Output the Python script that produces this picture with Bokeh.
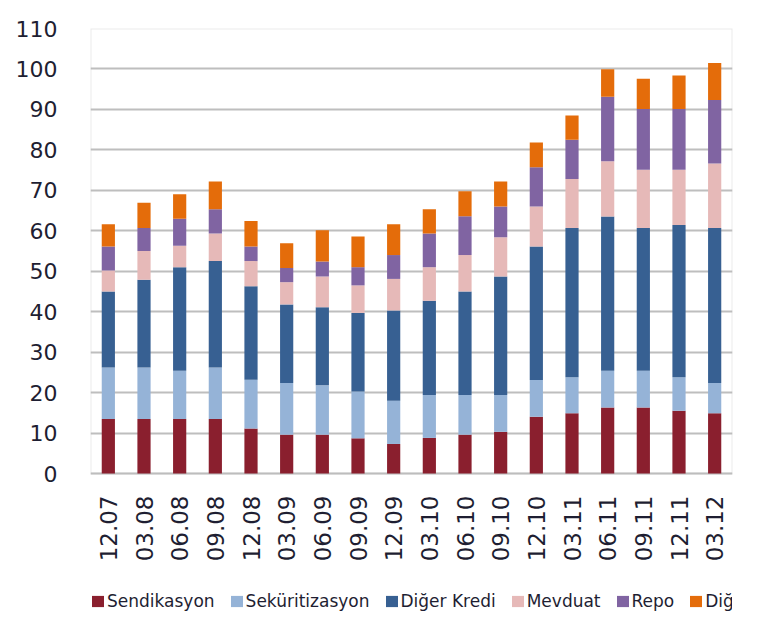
from bokeh.plotting import figure
from bokeh.models import ColumnDataSource, FactorRange, Range1d, FixedTicker, Legend, BoxAnnotation
from bokeh.embed import file_html
from bokeh.resources import INLINE

categories = ["12.07", "03.08", "06.08", "09.08", "12.08", "03.09", "06.09", "09.09", "12.09",
              "03.10", "06.10", "09.10", "12.10", "03.11", "06.11", "09.11", "12.11", "03.12"]

sendikasyon = [13.5, 13.5, 13.5, 13.5, 11.1, 9.6, 9.6, 8.7, 7.3, 8.8, 9.6, 10.3, 14.0, 14.9, 16.3, 16.3, 15.5, 14.9]
sekuritizasyon = [12.7, 12.7, 11.9, 12.7, 12.1, 12.8, 12.2, 11.6, 10.7, 10.6, 9.8, 9.1, 9.1, 8.9, 9.1, 9.1, 8.3, 7.5]
diger_kredi = [18.8, 21.7, 25.6, 26.3, 23.1, 19.4, 19.3, 19.4, 22.3, 23.3, 25.6, 29.3, 33.0, 36.9, 38.1, 35.3, 37.6, 38.3]
mevduat = [5.2, 7.1, 5.3, 6.8, 6.2, 5.5, 7.6, 6.8, 7.8, 8.3, 9.0, 9.7, 9.9, 12.1, 13.7, 14.4, 13.7, 15.9]
repo = [5.9, 5.7, 6.7, 6.0, 3.6, 3.5, 3.7, 4.5, 5.9, 8.3, 9.6, 7.6, 9.7, 9.7, 15.9, 15.0, 15.0, 15.7]
diger = [5.5, 6.2, 6.0, 6.9, 6.3, 6.1, 7.7, 7.6, 7.6, 6.0, 6.2, 6.2, 6.1, 6.0, 6.8, 7.5, 8.3, 9.2]

series_keys = ["sendikasyon", "sekuritizasyon", "diger_kredi", "mevduat", "repo", "diger"]
series_labels = ["Sendikasyon", "Seküritizasyon", "Diğer Kredi", "Mevduat", "Repo", "Diğer"]
series_colors = ["#8A1F2E", "#95B3D7", "#376092", "#E6B9B8", "#8064A2", "#E46C0A"]

y_ticks = [0, 10, 20, 30, 40, 50, 60, 70, 80, 90, 100, 110]

source = ColumnDataSource(data=dict(
    cat=categories,
    sendikasyon=sendikasyon,
    sekuritizasyon=sekuritizasyon,
    diger_kredi=diger_kredi,
    mevduat=mevduat,
    repo=repo,
    diger=diger,
))

# layout: value area is 445 px tall (0..110); the frame extends further down
# so that the x labels and the legend sit inside it.
plot_px = 445
frame_px = 583
y_top = y_ticks[-1]
y_bottom = -(frame_px - plot_px) * y_top / plot_px

p = figure(
    x_range=FactorRange(*categories, range_padding=0),
    y_range=Range1d(y_bottom, y_top),
    frame_width=642, frame_height=frame_px,
    min_border_left=90, min_border_top=28, min_border_right=35, min_border_bottom=0,
    output_backend="svg", toolbar_location=None,
)

renderers = p.vbar_stack(series_keys, x="cat", width=0.37, source=source,
                         color=series_colors, line_color=None)

grid_color = "#BEBEBE"
p.xgrid.grid_line_color = None
p.ygrid.grid_line_color = grid_color
p.ygrid.grid_line_width = 2
p.ygrid.ticker = FixedTicker(ticks=y_ticks)
p.outline_line_color = None
p.background_fill_color = "white"
p.border_fill_color = "white"

box = BoxAnnotation(bottom=y_ticks[0], top=y_ticks[-1], fill_color=None, fill_alpha=0,
                    line_color=grid_color, line_width=2, level="underlay")
p.add_layout(box)

p.yaxis.ticker = FixedTicker(ticks=y_ticks)
p.yaxis.axis_line_color = None
p.yaxis.major_tick_line_color = None
p.yaxis.minor_tick_line_color = None
p.yaxis.major_label_text_font = "DejaVu Sans"
p.yaxis.major_label_text_font_size = "22px"
p.yaxis.major_label_text_color = "#1E1E32"
p.yaxis.major_label_standoff = 27

p.xaxis.fixed_location = 0
p.xaxis.axis_line_color = None
p.xaxis.major_tick_line_color = None
p.xaxis.minor_tick_line_color = None
p.xaxis.major_label_orientation = 1.5708
p.xaxis.major_label_text_font = "DejaVu Sans"
p.xaxis.major_label_text_font_size = "23px"
p.xaxis.major_label_text_color = "#1E1E32"
p.xaxis.major_label_standoff = 16

leg = Legend(items=[(lab, [r]) for lab, r in zip(series_labels, renderers)])
leg.orientation = "horizontal"
leg.location = (0, 0)
leg.padding = 0
leg.margin = 0
leg.spacing = 14
leg.glyph_width = 15
leg.glyph_height = 14
leg.label_standoff = 2
leg.label_text_font = "DejaVu Sans"
leg.label_text_font_size = "17px"
leg.label_text_color = "#1E1E32"
leg.border_line_color = None
leg.background_fill_alpha = 0
p.add_layout(leg, "center")

open("out.html", "w").write(file_html(p, INLINE))
